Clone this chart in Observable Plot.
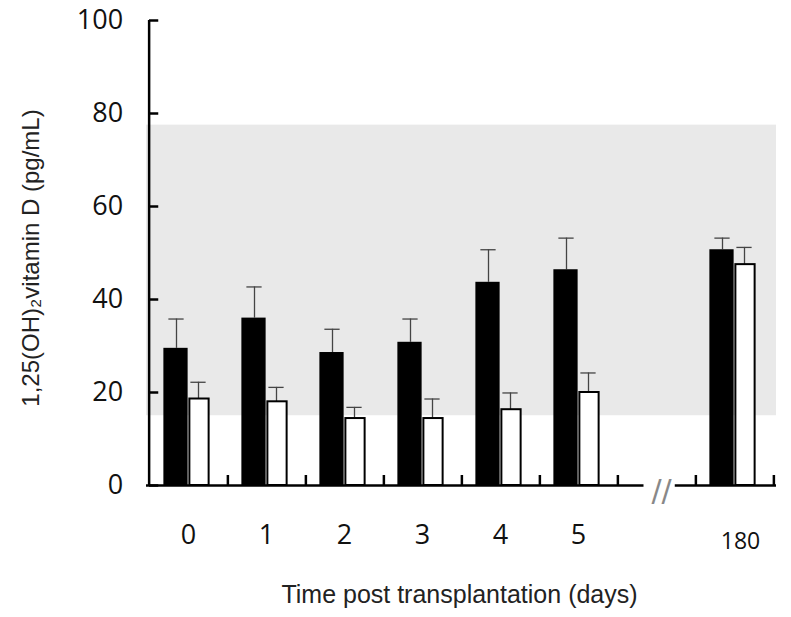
<!DOCTYPE html>
<html>
<head>
<meta charset="utf-8">
<script src="https://cdn.jsdelivr.net/npm/d3@7"></script>
<script src="https://cdn.jsdelivr.net/npm/@observablehq/plot@0.6"></script>
<style>
  html, body { margin: 0; padding: 0; background: #fff; }
  #chart svg { display: block; }
</style>
</head>
<body>
<div id="chart"></div>
<script>
// ---- data ----
const categories = ["0", "1", "2", "3", "4", "5", "180"];
const xSlots = ["0", "1", "2", "3", "4", "5", "gap", "180"];
const blackValues = [29.5, 36.0, 28.6, 30.8, 43.7, 46.4, 50.7];
const blackErrors = [6.3, 6.7, 5.0, 5.0, 7.0, 6.8, 2.5];
const whiteValues = [18.6, 18.0, 14.4, 14.4, 16.3, 20.0, 47.5];
const whiteErrors = [3.6, 3.1, 2.4, 4.2, 3.6, 4.2, 3.7];
const yTicks = [0, 20, 40, 60, 80, 100];
const referenceRange = [15, 77.5];
const yTitle = "1,25(OH)\u2082vitamin D (pg/mL)";
const xTitle = "Time post transplantation (days)";

// ---- layout ----
const W = 791, H = 617;
const mL = 146, mR = 15, mT = 20, mB = 132;
const bw = (W - mL - mR) / xSlots.length;
const pxPerUnit = (H - mT - mB) / 100;
const tickLen = 10 / pxPerUnit;

const black = categories.map((c, i) => ({c, v: blackValues[i], e: blackErrors[i]}));
const white = categories.map((c, i) => ({c, v: whiteValues[i], e: whiteErrors[i]}));
const band = [{lo: referenceRange[0], hi: referenceRange[1]}];

const tickFont = "'Open Sans', 'DejaVu Sans', sans-serif";
const titleFont = "'Liberation Sans', Arial, sans-serif";
const errColor = "#444";

const plot = Plot.plot({
  width: W,
  height: H,
  marginLeft: mL,
  marginRight: mR,
  marginTop: mT,
  marginBottom: mB,
  x: {type: "band", domain: xSlots, padding: 0, axis: null},
  y: {domain: [0, 100], axis: null},
  marks: [
    // reference range band
    Plot.rect(band, {y1: "lo", y2: "hi", fill: "#e9e9e9"}),
    // error bars (black series)
    Plot.ruleX(black, {x: "c", dx: -12, y1: "v", y2: d => d.v + d.e, stroke: errColor, strokeWidth: 1.3}),
    Plot.tickY(black, {x: "c", y: d => d.v + d.e, insetLeft: bw / 2 - 20, insetRight: bw / 2 + 4, stroke: errColor, strokeWidth: 1.3}),
    // error bars (white series)
    Plot.ruleX(white, {x: "c", dx: 10, y1: "v", y2: d => d.v + d.e, stroke: errColor, strokeWidth: 1.3}),
    Plot.tickY(white, {x: "c", y: d => d.v + d.e, insetLeft: bw / 2 + 2, insetRight: bw / 2 - 18, stroke: errColor, strokeWidth: 1.3}),
    // bars
    Plot.barY(black, {x: "c", y1: 0, y2: "v", insetLeft: bw / 2 - 25, insetRight: bw / 2, fill: "#000"}),
    Plot.barY(white, {x: "c", y1: 0, y2: "v", insetLeft: bw / 2 + 1, insetRight: bw / 2 - 21, fill: "#fff", stroke: "#000", strokeWidth: 2}),
    // x axis line with break
    Plot.ruleY([0], {stroke: "#000", strokeWidth: 2.5}),
    Plot.barY(["gap"], {x: d => d, y1: -2, y2: 2, insetLeft: 26.5, insetRight: bw - 58.5, fill: "#fff"}),
    Plot.text(["//"], {x: () => "gap", y: () => 0, dx: 5, dy: 6, text: d => d, fontSize: 30, fill: "#888", fontFamily: "'DejaVu Sans', sans-serif"}),
    // x ticks at band boundaries (pointing up)
    Plot.ruleX(xSlots, {x: d => d, dx: bw / 2, y1: 0, y2: tickLen, stroke: "#000", strokeWidth: 2.5}),
    // y axis line and inward ticks
    Plot.ruleX(["0"], {x: d => d, dx: -bw / 2, y1: 0, y2: 100, stroke: "#000", strokeWidth: 2.5}),
    Plot.tickY(yTicks, {x: () => "0", y: d => d, insetLeft: 0, insetRight: bw - 10, stroke: "#000", strokeWidth: 2.5}),
    // y tick labels
    Plot.text(yTicks, {x: () => "0", y: d => d, text: d => String(d), textAnchor: "end", dx: -bw / 2 - 26, fontSize: 27, fontFamily: tickFont, fill: "#111"}),
    // x tick labels
    Plot.text(categories.slice(0, 6), {x: d => d, y: () => 0, text: d => d, dy: 50, fontSize: 27, fontFamily: tickFont, fill: "#111"}),
    Plot.text(categories.slice(6), {x: d => d, y: () => 0, text: d => d, dx: 6, dy: 56, fontSize: 23, fontFamily: tickFont, fill: "#111"}),
    // titles
    Plot.text([yTitle], {frameAnchor: "left", textAnchor: "middle", lineAnchor: "middle", text: d => d, rotate: -90, dx: -115, dy: 5, fontSize: 24, fontFamily: titleFont, fill: "#222"}),
    Plot.text([xTitle], {frameAnchor: "bottom", textAnchor: "middle", lineAnchor: "middle", text: d => d, dx: -2, dy: 109, fontSize: 25, fontFamily: titleFont, fill: "#222"})
  ]
});

document.getElementById("chart").appendChild(plot);
</script>
</body>
</html>
